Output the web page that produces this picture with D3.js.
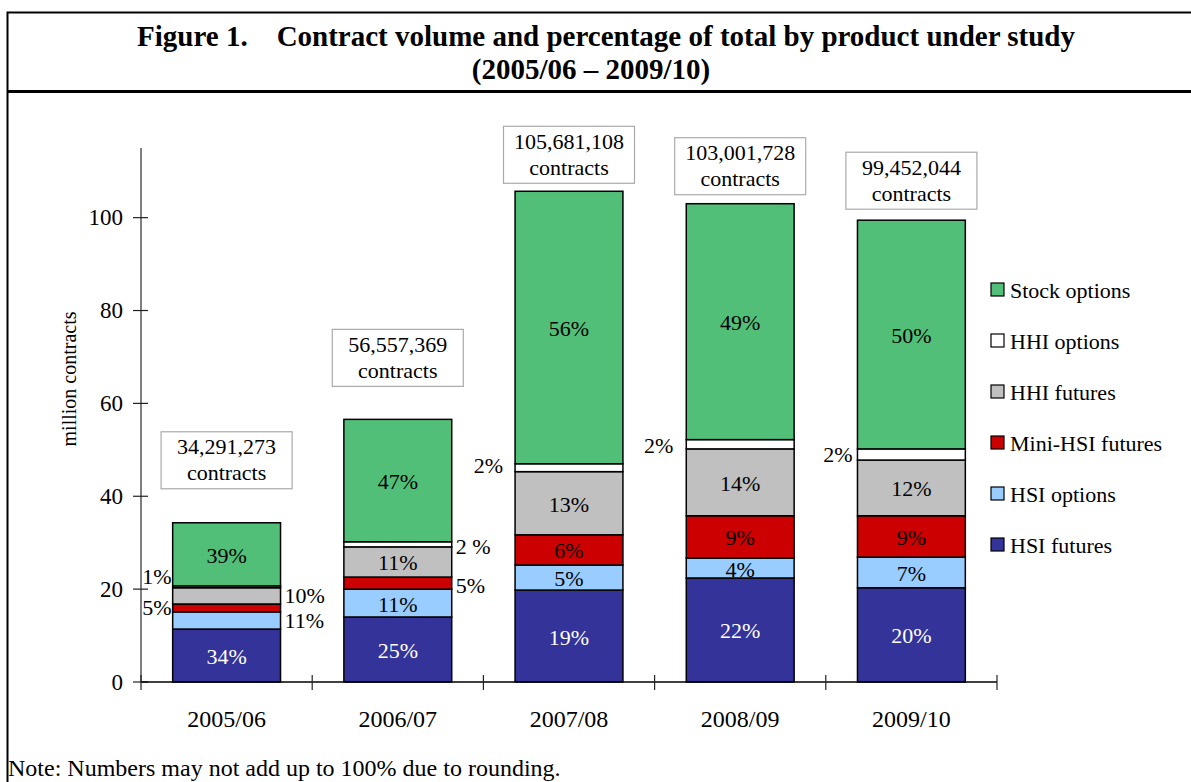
<!DOCTYPE html>
<html>
<head>
<meta charset="utf-8">
<script src="https://cdn.jsdelivr.net/npm/d3@7"></script>
<style>
  body { margin: 0; background: #fff; }
  text { font-family: "Liberation Serif", "Times New Roman", serif; }
</style>
</head>
<body>
<div id="canvas"></div>
<script>
"use strict";

// Data (million contracts)
let years = ["2005/06", "2006/07", "2007/08", "2008/09", "2009/10"];
let series = ["HSI futures", "HSI options", "Mini-HSI futures", "HHI futures", "HHI options", "Stock options"];
let hsiFutures   = [11.4, 14.0, 19.8, 22.4, 20.3];
let hsiOptions   = [3.7, 6.0, 5.4, 4.3, 6.6];
let miniHsi      = [1.7, 2.6, 6.5, 9.1, 8.9];
let hhiFutures   = [3.5, 6.5, 13.6, 14.4, 12.0];
let hhiOptions   = [0.4, 1.1, 1.7, 2.0, 2.4];
let stockOptions = [13.59, 26.36, 58.68, 50.8, 49.25];
let totals = ["34,291,273", "56,557,369", "105,681,108", "103,001,728", "99,452,044"];

// percentage labels per series
let pctHsiFut   = ["34%", "25%", "19%", "22%", "20%"];
let pctHsiOpt   = ["11%", "11%", "5%", "4%", "7%"];
let pctMini     = ["5%", "5%", "6%", "9%", "9%"];
let pctHhiFut   = ["10%", "11%", "13%", "14%", "12%"];
let pctHhiOpt   = ["1%", "2 %", "2%", "2%", "2%"];
let pctStock    = ["39%", "47%", "56%", "49%", "50%"];

let yTicks = [0, 20, 40, 60, 80, 100];

let colors = ["#333399", "#99CCFF", "#CC0000", "#C0C0C0", "#FFFFFF", "#52BF79"];

let values = [hsiFutures, hsiOptions, miniHsi, hhiFutures, hhiOptions, stockOptions];
let pcts = [pctHsiFut, pctHsiOpt, pctMini, pctHhiFut, pctHhiOpt, pctStock];

// label placement for small segments: [series, year, side, dx, dy]
let outside = [
    [4, 0, "left", -1, -10], [2, 0, "left", -1, 0],
    [3, 0, "right", 4, 0], [1, 0, "right", 4, 0],
    [4, 1, "right", 4, 2], [2, 1, "right", 4, 2],
    [4, 2, "left", -12, -2], [4, 3, "left", -13, 1], [4, 4, "left", -5, 0]
];
// gap between total box and bar top (px)
let boxGap = [34, 33, 8, 9, 11];

let svgWidth = 1191;
let svgHeight = 782;

let svg = d3.select("#canvas")
    .append("svg")
    .attr("width", svgWidth)
    .attr("height", svgHeight);

// Frame
svg.append("path")
    .attr("d", "M7.5,782 V12.5 H1195")
    .attr("fill", "none")
    .attr("stroke", "black")
    .attr("stroke-width", 2);

svg.append("line")
    .attr("x1", 7).attr("x2", 1195)
    .attr("y1", 91.5).attr("y2", 91.5)
    .attr("stroke", "black")
    .attr("stroke-width", 3);

// Title
svg.append("text")
    .attr("x", 606).attr("y", 46)
    .attr("text-anchor", "middle")
    .attr("font-weight", "bold")
    .style("font-size", "29px")
    .style("white-space", "pre")
    .text("Figure 1.    Contract volume and percentage of total by product under study");

svg.append("text")
    .attr("x", 591).attr("y", 79)
    .attr("text-anchor", "middle")
    .attr("font-weight", "bold")
    .style("font-size", "29px")
    .text("(2005/06 \u2013 2009/10)");

// Scales
let xScale = d3.scaleBand()
    .domain(years)
    .range([141, 997])
    .paddingInner(0.37)
    .paddingOuter(0.185);

let yScale = d3.scaleLinear()
    .domain([0, 115])
    .range([682, 148]);

// stacked data
let table = years.map((yr, i) => {
    let row = { year: yr };
    series.forEach((s, j) => { row[s] = values[j][i]; });
    return row;
});
let stacked = d3.stack().keys(series)(table);

// Y axis
svg.append("line")
    .attr("x1", 141).attr("x2", 141)
    .attr("y1", yScale(115)).attr("y2", yScale(0))
    .attr("stroke", "#555")
    .attr("stroke-width", 1.5);

yTicks.forEach(t => {
    svg.append("line")
        .attr("x1", 133).attr("x2", 148)
        .attr("y1", yScale(t)).attr("y2", yScale(t))
        .attr("stroke", "#222")
        .attr("stroke-width", 1.2);
    svg.append("text")
        .attr("x", 123)
        .attr("y", yScale(t))
        .attr("text-anchor", "end")
        .attr("dominant-baseline", "central")
        .style("font-size", "23px")
        .text(t);
});

svg.append("text")
    .attr("transform", "rotate(-90)")
    .attr("x", -379)
    .attr("y", 76)
    .attr("text-anchor", "middle")
    .style("font-size", "20px")
    .text("million contracts");

// Bars
let groups = svg.selectAll("g.series")
    .data(stacked)
    .join("g")
    .attr("class", "series")
    .attr("fill", (d, j) => colors[j]);

groups.selectAll("rect")
    .data(d => d)
    .join("rect")
    .attr("x", d => xScale(d.data.year))
    .attr("y", d => yScale(d[1]))
    .attr("width", xScale.bandwidth())
    .attr("height", d => yScale(d[0]) - yScale(d[1]))
    .attr("stroke", "black")
    .attr("stroke-width", 1.5);

// X axis
svg.append("line")
    .attr("x1", 141).attr("x2", 997)
    .attr("y1", 682).attr("y2", 682)
    .attr("stroke", "black")
    .attr("stroke-width", 1.5);

let step = xScale.step();
for (let i = 0; i <= years.length; i++) {
    let x = 141 + step * i;
    svg.append("line")
        .attr("x1", x).attr("x2", x)
        .attr("y1", 675).attr("y2", 690)
        .attr("stroke", "#222")
        .attr("stroke-width", 1.2);
}

years.forEach(yr => {
    svg.append("text")
        .attr("x", xScale(yr) + xScale.bandwidth() / 2)
        .attr("y", 719)
        .attr("text-anchor", "middle")
        .attr("dominant-baseline", "central")
        .style("font-size", "24px")
        .text(yr);
});

// Percentage labels
let isOutside = (j, i) => outside.find(o => o[0] === j && o[1] === i);

stacked.forEach((layer, j) => {
    layer.forEach((d, i) => {
        let x0 = xScale(d.data.year);
        let yc = (yScale(d[0]) + yScale(d[1])) / 2;
        let o = isOutside(j, i);
        let t = svg.append("text")
            .attr("dominant-baseline", "central")
            .style("font-size", "22px")
            .text(pcts[j][i]);
        if (o) {
            if (o[2] === "left") {
                t.attr("x", x0 + o[3]).attr("text-anchor", "end");
            } else {
                t.attr("x", x0 + xScale.bandwidth() + o[3]).attr("text-anchor", "start");
            }
            t.attr("y", yc + o[4]).attr("fill", "black");
        } else {
            t.attr("x", x0 + xScale.bandwidth() / 2)
                .attr("y", yc + 1)
                .attr("text-anchor", "middle")
                .attr("fill", j === 0 ? "white" : "black");
        }
    });
});

// Total boxes
let topLayer = stacked[stacked.length - 1];
topLayer.forEach((d, i) => {
    let cx = xScale(d.data.year) + xScale.bandwidth() / 2;
    let bottom = yScale(d[1]) - boxGap[i];
    let w = 131, h = 57;
    svg.append("rect")
        .attr("x", cx - w / 2)
        .attr("y", bottom - h)
        .attr("width", w)
        .attr("height", h)
        .attr("fill", "white")
        .attr("stroke", "#aaa")
        .attr("stroke-width", 1.2);
    svg.append("text")
        .attr("x", cx).attr("y", bottom - h + 15)
        .attr("text-anchor", "middle")
        .attr("dominant-baseline", "central")
        .style("font-size", "22px")
        .text(totals[i]);
    svg.append("text")
        .attr("x", cx).attr("y", bottom - h + 41)
        .attr("text-anchor", "middle")
        .attr("dominant-baseline", "central")
        .style("font-size", "22px")
        .text("contracts");
});

// Legend (top item first)
let legendX = 991;
series.slice().reverse().forEach((s, k) => {
    let j = series.length - 1 - k;
    let y = 290 + k * 51;
    svg.append("rect")
        .attr("x", legendX)
        .attr("y", y - 7)
        .attr("width", 13)
        .attr("height", 13)
        .attr("fill", colors[j])
        .attr("stroke", "black")
        .attr("stroke-width", 1.2);
    svg.append("text")
        .attr("x", legendX + 19)
        .attr("y", y)
        .attr("dominant-baseline", "central")
        .style("font-size", "22px")
        .text(s);
});

// Note
svg.append("text")
    .attr("x", 8)
    .attr("y", 776)
    .style("font-size", "24px")
    .text("Note: Numbers may not add up to 100% due to rounding.");
</script>
</body>
</html>
